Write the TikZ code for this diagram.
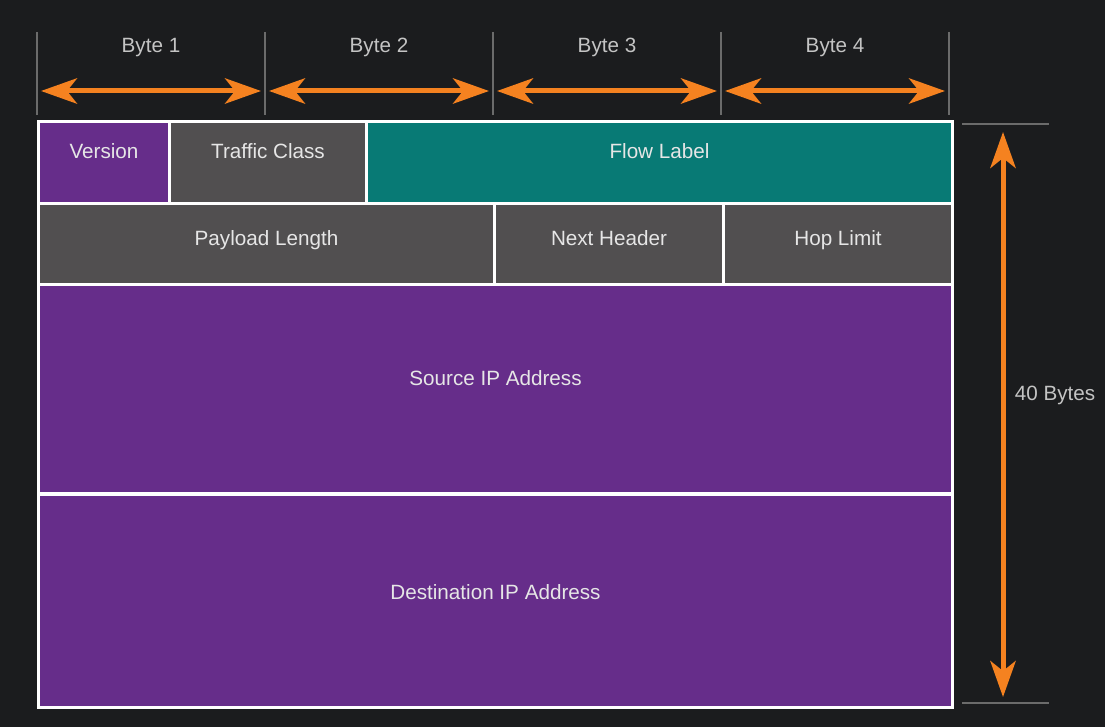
\documentclass[tikz,border=0pt]{standalone}
\usepackage{fontspec}
\setmainfont{Liberation Sans}
\usetikzlibrary{arrows.meta}

\definecolor{bgdark}{HTML}{1B1C1E}
\definecolor{hdrpurple}{HTML}{662D8A}
\definecolor{hdrgray}{HTML}{514F50}
\definecolor{hdrteal}{HTML}{087A75}
\definecolor{dimorange}{HTML}{F58220}
\definecolor{tickgray}{HTML}{6B6B6B}
\definecolor{celltext}{HTML}{E6E6E6}
\definecolor{bytetext}{HTML}{C4C4C4}

% field: name, colour, corners, baseline, text
\newcommand{\field}[8]{%
  \fill[#2] (#3,#4) rectangle (#5,#6);
  \node[lbl, anchor=base] (#1) at ({(#3+#5)/2},#7) {#8};}

\begin{document}
\begin{tikzpicture}[x=0.75pt, y=-0.75pt,
  lbl/.style={text=celltext, inner sep=0pt, font=\fontsize{15.5}{18}\selectfont},
  bytelbl/.style={lbl, text=bytetext},
  tick/.style={draw=tickgray, line width=1.5pt},
  dimarrow/.style={draw=dimorange, line width=3.75pt,
    {Stealth[length=27pt, width=19pt, inset=7.5pt]}-{Stealth[length=27pt, width=19pt, inset=7.5pt]}}]
\fill[bgdark] (0,0) rectangle (1105,727);
\useasboundingbox (0,0) rectangle (1105,727);

% byte scale on top
\foreach \i in {1,...,4} {
  \draw[tick] ({(\i-1)*228+37},32) -- ({(\i-1)*228+37},115);
  \node[bytelbl, anchor=base] (byte\i) at ({(\i-1)*228+151},53) {Byte \i};
  \coordinate (b\i l) at ({(\i-1)*228+41},91);
  \coordinate (b\i r) at ({\i*228+33},91);
  \draw[dimarrow] (b\i l) -- (b\i r);
}
\draw[tick] (949,32) -- (949,115);

% header frame
\fill[white] (37,120) rectangle (954,709);
\field{version}{hdrpurple}{40}{123}{168}{202}{159}{Version}
\field{traffic}{hdrgray}{171}{123}{365}{202}{159}{Traffic Class}
\field{flow}{hdrteal}{368}{123}{951}{202}{159}{Flow Label}
\field{payload}{hdrgray}{40}{205}{493}{283}{245}{Payload Length}
\field{next}{hdrgray}{496}{205}{722}{283}{245}{Next Header}
\field{hop}{hdrgray}{725}{205}{951}{283}{245}{Hop Limit}
\field{source}{hdrpurple}{40}{286}{951}{492}{385}{Source IP Address}
\field{dest}{hdrpurple}{40}{496}{951}{706}{599}{Destination IP Address}

% total size on the right
\draw[tick] (962,124) -- (1049,124);
\draw[tick] (962,703) -- (1049,703);
\coordinate (toptip) at (1003,132);
\coordinate (bottip) at (1003,697);
\draw[dimarrow] (toptip) -- (bottip);
\node[bytelbl, anchor=base] (total) at (1055,400) {40 Bytes};
\end{tikzpicture}
\end{document}
